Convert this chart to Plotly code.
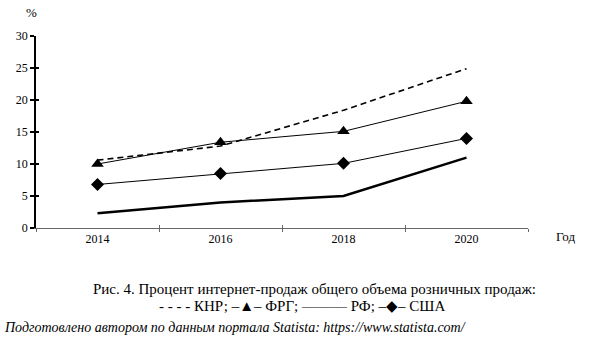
import plotly.graph_objects as go

years = ["2014", "2016", "2018", "2020"]
knr = [10.6, 12.8, 18.4, 24.9]
frg = [10.0, 13.4, 15.1, 19.8]
rf = [2.3, 4.0, 5.0, 11.0]
usa = [6.8, 8.5, 10.1, 14.0]
y_ticks = [0, 5, 10, 15, 20, 25, 30]

FONT = "Liberation Serif, Times New Roman, serif"

fig = go.Figure()
# empty helper trace so the overlay axes (inner halves of the crossing ticks) are drawn
fig.add_trace(go.Scatter(x=[None], y=[None], xaxis="x2", yaxis="y2",
                         mode="lines", showlegend=False, hoverinfo="skip"))
fig.add_trace(go.Scatter(x=years, y=knr, mode="lines", name="КНР",
                         line=dict(color="black", width=1.6, dash="6px,4px")))
fig.add_trace(go.Scatter(x=years, y=frg, mode="lines+markers", name="ФРГ",
                         line=dict(color="black", width=1),
                         marker=dict(symbol="triangle-up", size=11, color="black")))
fig.add_trace(go.Scatter(x=years, y=rf, mode="lines", name="РФ",
                         line=dict(color="black", width=2.5)))
fig.add_trace(go.Scatter(x=years, y=usa, mode="lines+markers", name="США",
                         line=dict(color="black", width=1),
                         marker=dict(symbol="diamond", size=10, color="black")))

fig.update_layout(
    width=590, height=343,
    margin=dict(l=36, r=62, t=36, b=115),
    paper_bgcolor="white", plot_bgcolor="white",
    showlegend=False,
    font=dict(family=FONT, color="black", size=12),
    xaxis=dict(type="category", range=[-0.5, 3.5], tickson="boundaries",
               showline=True, linecolor="#666", linewidth=1,
               ticks="outside", ticklen=3, tickcolor="#666",
               showgrid=False, zeroline=False,
               tickfont=dict(family=FONT, size=12, color="black")),
    xaxis2=dict(overlaying="x", anchor="y2", range=[-0.5, 3.5],
                tickvals=[-0.5, 0.5, 1.5, 2.5, 3.5],
                ticks="inside", ticklen=3, tickcolor="#666",
                showticklabels=False, showgrid=False, zeroline=False, showline=False),
    yaxis=dict(range=[0, 30], tickvals=y_ticks,
               showline=True, linecolor="black", linewidth=1.6,
               ticks="outside", ticklen=4, tickcolor="black", tickwidth=1.5,
               showgrid=False, zeroline=False,
               tickfont=dict(family=FONT, size=12, color="black")),
    yaxis2=dict(overlaying="y", anchor="x2", range=[0, 30], tickvals=y_ticks,
                ticks="inside", ticklen=3, tickcolor="black", tickwidth=1.5,
                showticklabels=False, showgrid=False, zeroline=False, showline=False),
    annotations=[
        dict(text="%", xref="paper", yref="paper", x=-0.01, y=1.0, yshift=24,
             showarrow=False, xanchor="center", yanchor="middle",
             font=dict(family=FONT, size=13)),
        dict(text="Год", xref="paper", yref="paper", x=1.0, y=0, xshift=37, yshift=-8,
             showarrow=False, xanchor="center", yanchor="middle",
             font=dict(family=FONT, size=13)),
        dict(text="Рис. 4. Процент интернет-продаж общего объема розничных продаж:",
             xref="paper", yref="paper", x=0.5, y=0, xshift=32, yshift=-61,
             xanchor="center", yanchor="middle", showarrow=False,
             font=dict(family=FONT, size=15)),
        dict(text="- - - - КНР; –▲– ФРГ; ——— РФ; –◆– США",
             xref="paper", yref="paper", x=0.5, y=0, xshift=20, yshift=-78,
             xanchor="center", yanchor="middle", showarrow=False,
             font=dict(family=FONT, size=15)),
        dict(text="<i>Подготовлено автором по данным портала Statista: https://www.statista.com/</i>",
             xref="paper", yref="paper", x=0, y=0, xshift=-34, yshift=-99,
             xanchor="left", yanchor="middle", showarrow=False,
             font=dict(family=FONT, size=14)),
    ],
)

fig.write_html("out.html")
